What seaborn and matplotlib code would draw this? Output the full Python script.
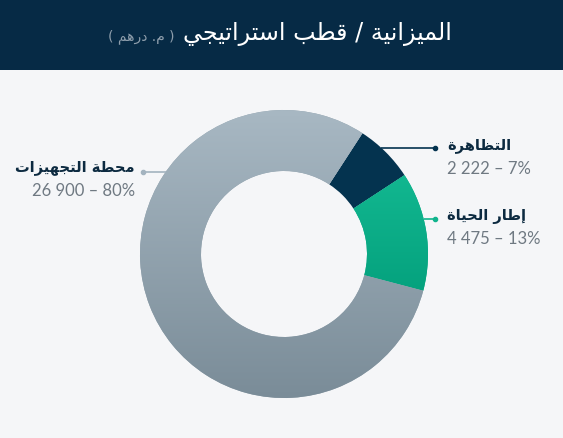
import numpy as np
import matplotlib
matplotlib.use("Agg")
import matplotlib.pyplot as plt
import seaborn as sns

# ---------------- data ----------------
title = "الميزانية / قطب استراتيجي"
subtitle = "( م. درهم )"
categories = ["التظاهرة", "إطار الحياة", "محطة التجهيزات"]
values = [2222, 4475, 26900]
value_labels = ["2 222", "4 475", "26 900"]
percent_labels = ["7%", "13%", "80%"]

# ---------------- minimal Arabic shaping (presentation forms) ----------------
FORMS = {
    '\u0627': ('\uFE8D', '\uFE8E', None, None),
    '\u0625': ('\uFE87', '\uFE88', None, None),
    '\u0628': ('\uFE8F', '\uFE90', '\uFE91', '\uFE92'),
    '\u0629': ('\uFE93', '\uFE94', None, None),
    '\u062A': ('\uFE95', '\uFE96', '\uFE97', '\uFE98'),
    '\u062C': ('\uFE9D', '\uFE9E', '\uFE9F', '\uFEA0'),
    '\u062D': ('\uFEA1', '\uFEA2', '\uFEA3', '\uFEA4'),
    '\u062F': ('\uFEA9', '\uFEAA', None, None),
    '\u0631': ('\uFEAD', '\uFEAE', None, None),
    '\u0632': ('\uFEAF', '\uFEB0', None, None),
    '\u0633': ('\uFEB1', '\uFEB2', '\uFEB3', '\uFEB4'),
    '\u0637': ('\uFEC1', '\uFEC2', '\uFEC3', '\uFEC4'),
    '\u0638': ('\uFEC5', '\uFEC6', '\uFEC7', '\uFEC8'),
    '\u0642': ('\uFED5', '\uFED6', '\uFED7', '\uFED8'),
    '\u0644': ('\uFEDD', '\uFEDE', '\uFEDF', '\uFEE0'),
    '\u0645': ('\uFEE1', '\uFEE2', '\uFEE3', '\uFEE4'),
    '\u0646': ('\uFEE5', '\uFEE6', '\uFEE7', '\uFEE8'),
    '\u0647': ('\uFEE9', '\uFEEA', '\uFEEB', '\uFEEC'),
    '\u064A': ('\uFEF1', '\uFEF2', '\uFEF3', '\uFEF4'),
}


def shape_ar(s):
    def dual(c):
        return c in FORMS and FORMS[c][2] is not None
    out = []
    for i, c in enumerate(s):
        if c not in FORMS:
            out.append(c)
            continue
        prev = s[i - 1] if i > 0 else ''
        nxt = s[i + 1] if i + 1 < len(s) else ''
        jp = dual(prev)
        jn = dual(c) and nxt in FORMS
        iso, fin, ini, med = FORMS[c]
        if jp and jn:
            out.append(med)
        elif jp:
            out.append(fin)
        elif jn:
            out.append(ini)
        else:
            out.append(iso)
    vis = ''.join(reversed(out))
    return vis.translate(str.maketrans('()', ')('))


# ---------------- style ----------------
sns.set_style("white")
plt.rcParams['font.family'] = ['DejaVu Sans']

W, H = 563, 438
BG = "#f5f6f8"
HEADER = "#062a45"
NAVY = "#04334f"
grad_colors = [
    sns.blend_palette(["#12b790", "#05a27e"], 2),   # green
    sns.blend_palette(["#a8b8c3", "#7a8c98"], 2),   # grey
]
colors = [NAVY, "#0aac86", "#93a3ae"]
line_colors = [NAVY, "#10b48d", "#a3b3bf"]

fig = plt.figure(figsize=(W / 100, H / 100), dpi=100, facecolor=BG)
ax = fig.add_axes([0, 0, 1, 1])
ax.set_facecolor(BG)

# header band
ax.add_patch(plt.Rectangle((0, H - 70), W, 70, color=HEADER, zorder=1, lw=0))
ax.text(452, H - 34, shape_ar(title), color="white", fontsize=17.2,
        ha="right", va="center", zorder=5)
ax.text(175, H - 37, shape_ar(subtitle), color="#8d9dab", fontsize=10,
        ha="right", va="center", zorder=5)

# donut
cx, cy = 284, H - 254
R, r_in = 144, 83
wedges, _ = ax.pie(values, colors=colors, startangle=57, counterclock=False,
                   center=(cx, cy), radius=R,
                   wedgeprops=dict(width=R - r_in, linewidth=0))
for w in wedges:
    w.set_zorder(2)

# vertical gradients on green and grey slices
for w, pal in zip(wedges[1:], grad_colors):
    v = w.get_path().vertices
    y0, y1 = v[:, 1].min(), v[:, 1].max()
    x0, x1 = v[:, 0].min(), v[:, 0].max()
    cmap = matplotlib.colors.LinearSegmentedColormap.from_list("g", pal)
    im = ax.imshow(np.linspace(0, 1, 256).reshape(-1, 1), cmap=cmap,
                   extent=(x0, x1, y0, y1), aspect="auto",
                   origin="upper", zorder=3, interpolation="bilinear")
    im.set_clip_path(w)

ax.set_xlim(0, W)
ax.set_ylim(0, H)
ax.set_aspect("auto")
ax.axis("off")

# labels & connectors
label_y = [H - 147.5, H - 218.5, H - 171.5]      # connector heights
sides = [1, 1, -1]
dot_x = [435, 435, 143]
for i in range(3):
    ly = label_y[i]
    dy = ly - cy
    x_edge = cx + sides[i] * np.sqrt(R ** 2 - dy ** 2)
    ax.plot([x_edge, dot_x[i]], [ly, ly], color=line_colors[i], lw=1.2, zorder=4,
            solid_capstyle="butt")
    ax.plot([dot_x[i]], [ly], "o", ms=3, color=line_colors[i], zorder=4)
    if sides[i] > 0:
        tx, ha = 447, "left"
    else:
        tx, ha = 135, "right"
    name_y = ly + 2 if sides[i] > 0 else ly + 4
    ax.text(tx, name_y, shape_ar(categories[i]), color="#0c2a40", fontsize=10.5,
            fontweight="bold", ha=ha, va="center", zorder=5)
    ax.text(tx, name_y - 23, f"{value_labels[i]} – {percent_labels[i]}",
            color="#6f7982", fontsize=12, family="Lato", ha=ha, va="center",
            zorder=5)

fig.savefig("out.png", dpi=100, facecolor=BG)
